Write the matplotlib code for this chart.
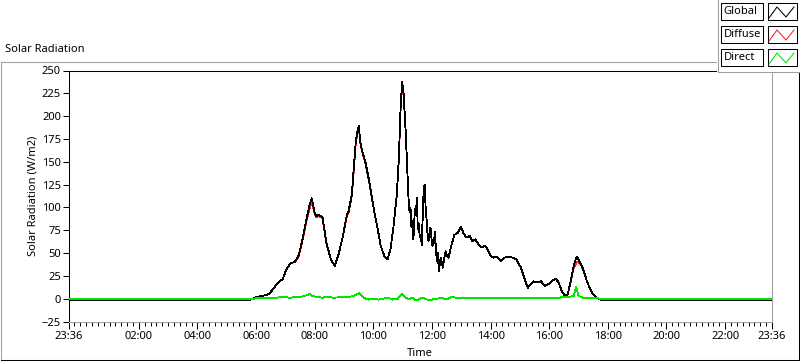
import matplotlib
matplotlib.use("Agg")
import matplotlib.pyplot as plt
from matplotlib.lines import Line2D
from matplotlib.patches import Rectangle
from matplotlib.ticker import FixedLocator

# ---------------- data ----------------
global_times = ["23:36","05:49","06:01","06:13","06:26","06:34","06:42","06:48","06:54","07:02",
                "07:11","07:19","07:27","07:35","07:43","07:50","07:54","08:00","08:04","08:08",
                "08:16","08:24","08:33","08:41","08:49","08:57","09:03","09:06","09:09","09:16",
                "09:20","09:24","09:28","09:30","09:34","09:38","09:44","09:50","09:56","10:03",
                "10:09","10:15","10:23","10:29","10:35","10:41","10:48","10:52","10:56","10:59",
                "11:02","11:06","11:10","11:12","11:14","11:16","11:18","11:20","11:22","11:25",
                "11:27","11:29","11:31","11:33","11:35","11:37","11:39","11:43","11:45","11:47",
                "11:49","11:51","11:53","11:55","11:57","11:59","12:01","12:04","12:06","12:08",
                "12:10","12:12","12:14","12:16","12:18","12:20","12:22","12:25","12:28","12:31",
                "12:34","12:40","12:46","12:53","12:59","13:02","13:05","13:11","13:17","13:23",
                "13:29","13:36","13:42","13:48","13:54","14:00","14:06","14:12","14:21","14:29",
                "14:37","14:45","14:53","15:02","15:10","15:16","15:22","15:28","15:34","15:43",
                "15:51","15:59","16:07","16:13","16:19","16:26","16:32","16:38","16:44","16:50",
                "16:56","17:00","17:05","17:11","17:17","17:23","17:29","17:37","17:45","23:36"]
global_vals = [-1,-1,2,3,5,10,16,19,21,32,
               39,40,47,65,87,104,110,94,90,92,
               89,61,43,36,49,67,84,92,95,114,
               144,172,185,189,169,160,149,133,114,92,
               76,58,46,43,54,78,114,152,213,238,
               224,185,136,110,95,100,78,85,65,98,
               92,110,76,82,67,70,59,120,125,100,
               87,70,63,72,78,66,58,62,73,55,
               41,50,30,38,45,40,34,44,52,47,
               45,59,70,72,79,75,71,67,69,63,
               65,59,56,58,54,47,45,46,41,45,
               46,45,43,34,21,12,16,19,18,19,
               14,16,20,22,18,8,3,5,19,36,
               46,43,38,30,19,12,5,1,-1,-1]
diffuse_vals = [-1,-1,2,3,5,10,16,19,21,32,
                39,40,46,64,85,100,107,93,89,91,
                88,60,43,36,49,67,83,91,94,113,
                140,170,184,188,168,159,148,132,113,92,
                76,58,46,43,54,78,113,150,210,234,
                222,184,135,109,95,100,78,85,65,98,
                92,110,76,82,67,70,59,119,124,100,
                87,70,63,72,78,66,58,62,73,55,
                41,50,30,38,45,40,34,44,52,47,
                45,59,70,72,79,75,71,67,69,63,
                65,59,56,58,54,47,45,46,41,45,
                46,45,43,34,21,12,16,19,18,19,
                14,16,20,22,18,8,3,5,18,34,
                40,40,37,30,19,12,5,1,-1,-1]
direct_times = ["23:36","05:55","06:10","06:25","06:40","06:55","07:10","07:20","07:30","07:40",
                "07:50","07:55","08:05","08:15","08:25","08:40","08:55","09:10","09:20","09:30",
                "09:40","09:50","10:00","10:10","10:20","10:30","10:40","10:50","10:58","11:05",
                "11:12","11:20","11:28","11:35","11:42","11:50","12:00","12:10","12:20","12:30",
                "12:40","12:50","13:00","14:00","15:00","16:00","16:20","16:30","16:40","16:50",
                "16:55","17:00","17:10","17:30","17:45","23:36"]
direct_vals = [0,0,1,1,1,2,1,2,2,3,
               5,3,2,1,2,1,2,2,3,6,
               1,-1,0,-1,0,1,-1,0,5,2,
               -1,1,-2,0,1,-1,-1,0,1,-1,
               2,1,1,1,1,1,1,2,2,3,
               13,3,1,1,0,0]
x_tick_labels = ["23:36","02:00","04:00","06:00","08:00","10:00","12:00",
                 "14:00","16:00","18:00","20:00","22:00","23:36"]
y_ticks = [-25,0,25,50,75,100,125,150,175,200,225,250]
series_names = ["Global","Diffuse","Direct"]
series_colors = ["#000000","#ff2020","#00e600"]


def to_minutes(labels):
    out = []
    for i, s in enumerate(labels):
        h, m = s.split(":")
        v = int(h) * 60 + int(m)
        if i == 0 and v > 720:
            v -= 1440
        out.append(v)
    return out

gt = to_minutes(global_times)
dt = to_minutes(direct_times)
x_ticks = to_minutes(x_tick_labels)

# ---------------- figure ----------------
W, H = 800, 361
plt.rcParams['font.family'] = ['Noto Sans', 'DejaVu Sans']
fig = plt.figure(figsize=(8, 3.61), dpi=100)
fig.patch.set_facecolor("white")

def fx(x):
    return x / W

def fy(y):
    return 1 - y / H

L, R, T, B = 68.5, 772, 70.5, 321.5
ax = fig.add_axes([fx(L), fy(B), (R - L) / W, (B - T) / H])
ax.set_facecolor("white")

lw = 0.75
dlw = 0.6
ax.plot(gt, diffuse_vals, color=series_colors[1], lw=dlw, zorder=2, antialiased=False)
ax.plot(gt, global_vals, color=series_colors[0], lw=dlw, zorder=3, antialiased=False)
ax.plot(dt, direct_vals, color=series_colors[2], lw=dlw, zorder=4, antialiased=False)

ax.set_xlim(x_ticks[0], x_ticks[-1])
ax.set_ylim(-25, 250)
ax.set_yticks(y_ticks)
ax.set_xticks(x_ticks)
ax.set_xticklabels(x_tick_labels)
minor = list(range(x_ticks[0], x_ticks[-1] + 1, 12))
ax.xaxis.set_minor_locator(FixedLocator(minor))

for s in ["left", "top"]:
    ax.spines[s].set_color("black")
    ax.spines[s].set_linewidth(lw)
for s in ["right", "bottom"]:
    ax.spines[s].set_color("#a0a0a0")
    ax.spines[s].set_linewidth(lw)

ax.tick_params(axis="y", direction="out", length=4, width=lw, pad=1.5,
               labelsize=8, colors="black")
ax.tick_params(axis="x", which="major", direction="out", length=5, width=lw, pad=2,
               labelsize=8, colors="black")
ax.tick_params(axis="x", which="minor", direction="out", length=3, width=lw)

fig.text(fx(420), fy(354), "Time", ha="center", va="center", fontsize=8)
fig.text(fx(33), fy(196), "Solar Radiation (W/m2)", ha="center", va="center",
         rotation=90, fontsize=8)
fig.text(fx(5), fy(50), "Solar Radiation", ha="left", va="center", fontsize=8)

# outer frame
grey = "#a0a0a0"
fig.add_artist(Line2D([fx(1), fx(717)], [fy(62), fy(62)], color=grey, lw=lw))
fig.add_artist(Line2D([fx(1), fx(1)], [fy(62), fy(359.5)], color=grey, lw=lw))
fig.add_artist(Line2D([fx(1), fx(799)], [fy(359.5), fy(359.5)], color="black", lw=lw))
fig.add_artist(Line2D([fx(798.5), fx(798.5)], [fy(72), fy(360)], color="black", lw=lw))

# legend panel
fig.add_artist(Rectangle((fx(717), fy(72)), fx(800) - fx(717), fy(0) - fy(72),
                         facecolor="white", edgecolor="none", zorder=5))
fig.add_artist(Line2D([fx(717.5), fx(717.5)], [fy(0), fy(72)], color=grey, lw=lw, zorder=6))
fig.add_artist(Line2D([fx(717.5), fx(800)], [fy(71.5), fy(71.5)], color=grey, lw=lw, zorder=6))

row_tops = [3, 26, 49]
for name, col, top in zip(series_names, series_colors, row_tops):
    bot = top + 17
    fig.add_artist(Rectangle((fx(721), fy(bot)), fx(763) - fx(721), fy(top) - fy(bot),
                             facecolor="white", edgecolor="black", lw=lw, zorder=7))
    fig.add_artist(Rectangle((fx(767.5), fy(bot)), fx(797) - fx(767.5), fy(top) - fy(bot),
                             facecolor="white", edgecolor="black", lw=lw, zorder=7))
    fig.text(fx(723.5), fy(top + 8.5), name, ha="left", va="center", fontsize=8, zorder=8)
    zx = [769, 777, 786, 794]
    zy = [top + 15, top + 4, top + 14, top + 4]
    fig.add_artist(Line2D([fx(v) for v in zx], [fy(v) for v in zy], color=col, lw=lw, zorder=8))

fig.savefig("out.png", dpi=100, facecolor="white")
